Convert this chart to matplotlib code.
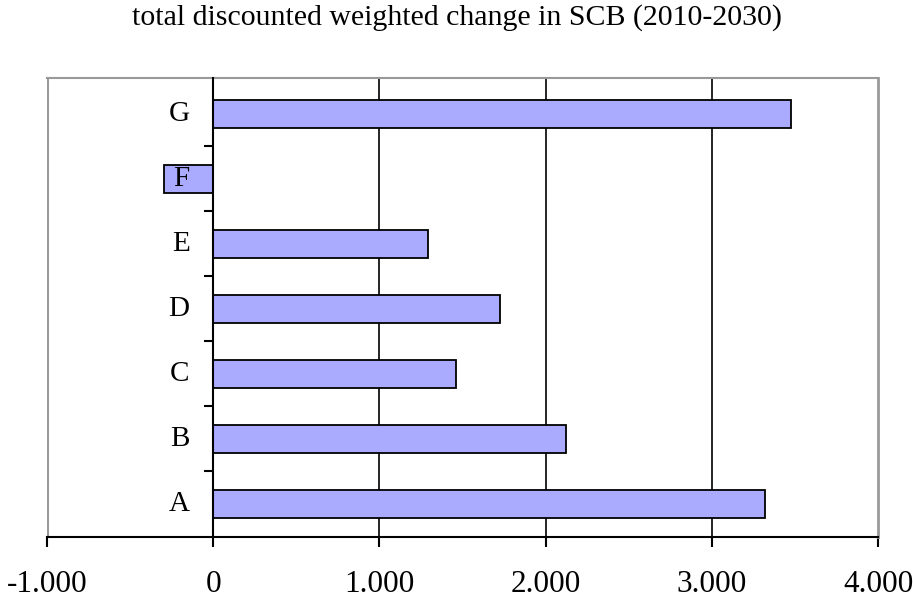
import numpy as np
import matplotlib
matplotlib.use("Agg")
import matplotlib.pyplot as plt

categories = ["A", "B", "C", "D", "E", "F", "G"]
values = [3.321, 2.120, 1.458, 1.723, 1.292, -0.299, 3.478]
xticks = [-1, 0, 1, 2, 3, 4]
xlabels = ["-1.000", "0", "1.000", "2.000", "3.000", "4.000"]

fig = plt.figure(figsize=(9.13, 6.01), dpi=100)
ax = fig.add_axes([47/913, 64/601, 831/913, 459/601])

y = np.arange(len(categories))
ax.barh(y, values, height=0.43, color="#aaaaff", edgecolor="black",
        linewidth=1.3, zorder=3)

ax.set_xlim(-1, 4)
ax.set_ylim(-0.51, 6.55)

# gridlines
for g in [1, 2, 3]:
    ax.axvline(g, color="black", linewidth=1.2, zorder=1)
ax.axvline(-1, color="#999999", linewidth=2.2, zorder=1)

# spines
ax.spines["top"].set_color("#999999")
ax.spines["right"].set_color("#999999")
ax.spines["top"].set_linewidth(1.5)
ax.spines["right"].set_linewidth(2.0)
ax.spines["bottom"].set_color("black")
ax.spines["bottom"].set_linewidth(1.5)
ax.spines["left"].set_position(("data", 0))
ax.spines["left"].set_linewidth(1.5)
ax.spines["left"].set_zorder(4)

ax.set_xticks(xticks)
ax.set_xticklabels(xlabels, family="Liberation Serif", fontsize=22.5)
ax.tick_params(axis="x", direction="out", length=7, width=1.5, pad=17)

# category labels drawn as text so they sit on top of the bars
ax.set_yticks(y)
ax.set_yticklabels([])
ax.set_yticks(np.arange(len(categories) - 1) + 0.5, minor=True)
ax.tick_params(axis="y", which="major", length=0)
ax.tick_params(axis="y", which="minor", direction="out", length=6.5, width=1.5)
for yi, c in zip(y, categories):
    ax.annotate(c, (0, yi), xytext=(-17, 0), textcoords="offset points",
                ha="right", va="center", family="Liberation Serif",
                fontsize=21, zorder=5)

fig.text(0.5, 1 - 18/601, "total discounted weighted change in SCB (2010-2030)",
         ha="center", va="center", family="Liberation Serif", fontsize=21.5)

fig.savefig("out.png", dpi=100)
